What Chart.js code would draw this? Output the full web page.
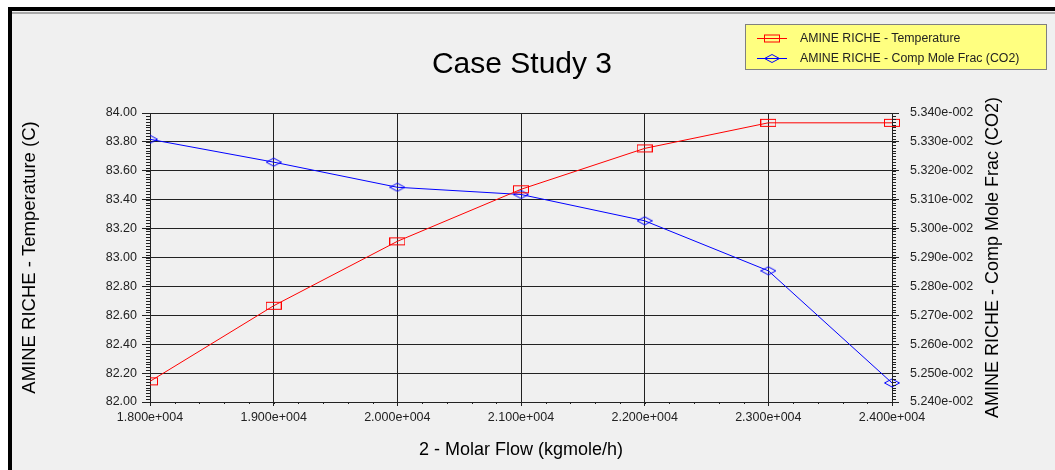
<!DOCTYPE html>
<html>
<head>
<meta charset="utf-8">
<script src="https://cdn.jsdelivr.net/npm/chart.js@4.4.1/dist/chart.umd.min.js"></script>
<style>
  html, body { margin: 0; padding: 0; background: #fff; width: 1055px; height: 470px; overflow: hidden; font-family: "Liberation Sans", Arial, sans-serif; }
  #frame { position: absolute; left: 8px; top: 7px; width: 1047px; height: 463px; background: #f0f0f0; border-left: 4px solid #000; border-top: 4px solid #000; box-sizing: border-box; }
  #frameline { position: absolute; left: 12px; top: 12px; width: 1043px; height: 2px; background: #a8a8a8; }
  #chart { position: absolute; left: 0; top: 0; }
  #legend { position: absolute; left: 745px; top: 24px; width: 302px; height: 46px; background: #ffff80; border: 1px solid #808080; box-sizing: border-box; }
  .row { position: absolute; left: 11px; height: 14px; display: flex; align-items: center; font-size: 12.3px; color: #222; white-space: nowrap; }
  .row canvas { margin-right: 13px; }
</style>
</head>
<body>
<div id="frame"></div>
<div id="frameline"></div>
<canvas id="chart" width="1055" height="470"></canvas>
<div id="legend"></div>
<script>
// data
const flow = [18000, 19000, 20000, 21000, 22000, 23000, 24000];
const temperature = [82.143, 82.666, 83.112, 83.472, 83.755, 83.932, 83.932];
const co2Frac = [0.053309, 0.053230, 0.053143, 0.053118, 0.053027, 0.052854, 0.052466];

const flowTicks = [18000, 19000, 20000, 21000, 22000, 23000, 24000];
const tempTicks = [82.0, 82.2, 82.4, 82.6, 82.8, 83.0, 83.2, 83.4, 83.6, 83.8, 84.0];
const co2Ticks = [0.0524, 0.0525, 0.0526, 0.0527, 0.0528, 0.0529, 0.0530, 0.0531, 0.0532, 0.0533, 0.0534];

const chartTitle = 'Case Study 3';
const seriesNames = ['AMINE RICHE - Temperature', 'AMINE RICHE - Comp Mole Frac (CO2)'];
const seriesColors = ['#ff0000', '#0000ff'];

const FONT = '"Liberation Sans", Arial, sans-serif';
Chart.defaults.font.family = FONT;

// 1.800e+004 style labels
function sci(v) {
  let [m, e] = v.toExponential(3).split('e');
  const sign = e[0] === '-' ? '-' : '+';
  e = e.replace(/[+-]/, '').padStart(3, '0');
  return m + 'e' + sign + e;
}

function drawRect(ctx, cx, cy, color) {
  ctx.strokeStyle = color;
  ctx.lineWidth = 1;
  ctx.strokeRect(cx - 7.5, cy - 3.5, 15, 7);
}
function drawDiamond(ctx, cx, cy, color) {
  ctx.strokeStyle = color;
  ctx.lineWidth = 1;
  ctx.beginPath();
  ctx.moveTo(cx - 7.5, cy);
  ctx.lineTo(cx, cy - 4);
  ctx.lineTo(cx + 7.5, cy);
  ctx.lineTo(cx, cy + 4);
  ctx.closePath();
  ctx.stroke();
}
const markers = [drawRect, drawDiamond];

function markerCanvas(i) {
  const c = document.createElement('canvas');
  c.width = 16; c.height = 10;
  markers[i](c.getContext('2d'), 8, 5, seriesColors[i]);
  return c;
}

// legend (html)
const legendEl = document.getElementById('legend');
seriesNames.forEach((name, i) => {
  const row = document.createElement('div');
  row.className = 'row';
  row.style.top = (6 + i * 20) + 'px';
  const ic = document.createElement('canvas');
  ic.width = 30; ic.height = 12;
  const g = ic.getContext('2d');
  g.strokeStyle = seriesColors[i];
  g.lineWidth = 1;
  g.beginPath(); g.moveTo(0, 6.5); g.lineTo(30, 6.5); g.stroke();
  markers[i](g, 15, 6.5, seriesColors[i]);
  row.appendChild(ic);
  row.appendChild(document.createTextNode(name));
  legendEl.appendChild(row);
});

// title, minor ticks, right axis title (reads bottom to top)
const extras = {
  id: 'extras',
  afterDraw(chart) {
    const { ctx, scales: { x, y, y1 } } = chart;
    ctx.save();
    ctx.strokeStyle = '#222';
    ctx.lineWidth = 1;
    ctx.beginPath();
    for (let i = 0; i <= 100; i++) {
      const py = Math.round(y.getPixelForValue(82 + i * 0.02)) + 0.5;
      ctx.moveTo(x.left - 4, py); ctx.lineTo(x.left, py);
      const py1 = Math.round(y1.getPixelForValue(0.0524 + i * 0.00001)) + 0.5;
      ctx.moveTo(x.right, py1); ctx.lineTo(x.right + 4, py1);
    }
    for (let i = 0; i <= 30; i++) {
      const px = Math.round(x.getPixelForValue(18000 + i * 200)) + 0.5;
      ctx.moveTo(px, y.bottom); ctx.lineTo(px, y.bottom + 2);
    }
    ctx.stroke();

    ctx.fillStyle = '#000';
    ctx.textAlign = 'center';
    ctx.textBaseline = 'middle';
    ctx.font = '30px ' + FONT;
    ctx.fillText(chartTitle, (x.left + x.right) / 2 + 1, 65);

    ctx.translate(993, (y.top + y.bottom) / 2);
    ctx.rotate(-Math.PI / 2);
    ctx.font = '18px ' + FONT;
    ctx.fillText(seriesNames[1], 0, 0);
    ctx.restore();
  }
};

const gridColor = '#222';
const tickFont = { size: 12.5 };

new Chart(document.getElementById('chart'), {
  type: 'line',
  data: {
    datasets: [
      {
        label: seriesNames[0],
        data: flow.map((f, i) => ({ x: f, y: temperature[i] })),
        yAxisID: 'y',
        borderColor: seriesColors[0],
        borderWidth: 1,
        pointStyle: markerCanvas(0),
        pointRadius: 7,
        clip: { left: 0, top: 8, right: 8, bottom: 8 }
      },
      {
        label: seriesNames[1],
        data: flow.map((f, i) => ({ x: f, y: co2Frac[i] })),
        yAxisID: 'y1',
        borderColor: seriesColors[1],
        borderWidth: 1,
        pointStyle: markerCanvas(1),
        pointRadius: 7,
        clip: { left: 0, top: 8, right: 8, bottom: 8 }
      }
    ]
  },
  options: {
    responsive: false,
    animation: false,
    devicePixelRatio: 1,
    layout: { padding: { top: 113 } },
    plugins: {
      legend: { display: false },
      tooltip: { enabled: false },
      title: { display: false }
    },
    scales: {
      x: {
        type: 'linear',
        min: 18000,
        max: 24000,
        afterBuildTicks: s => { s.ticks = flowTicks.map(v => ({ value: v })); },
        afterFit: s => { s.height = 68; },
        ticks: { callback: v => sci(v), color: '#222', font: tickFont, padding: 4, autoSkip: false, maxRotation: 0 },
        grid: { color: gridColor, tickColor: gridColor, tickLength: 4 },
        border: { color: gridColor },
        title: { display: true, text: '2 - Molar Flow (kgmole/h)', color: '#000', font: { size: 18 }, padding: { top: 0, bottom: 9 } }
      },
      y: {
        position: 'left',
        min: 82,
        max: 84,
        afterBuildTicks: s => { s.ticks = tempTicks.map(v => ({ value: v })); },
        afterFit: s => { s.width = 150; },
        ticks: { callback: v => v.toFixed(2), color: '#222', font: tickFont, padding: 5, autoSkip: false },
        grid: { color: gridColor, tickColor: gridColor, tickLength: 8 },
        border: { color: gridColor },
        title: { display: true, text: 'AMINE RICHE - Temperature (C)', color: '#000', font: { size: 18.5 }, padding: { top: 19, bottom: 0 } }
      },
      y1: {
        position: 'right',
        min: 0.0524,
        max: 0.0534,
        afterBuildTicks: s => { s.ticks = co2Ticks.map(v => ({ value: v })); },
        afterFit: s => { s.width = 163; },
        ticks: { callback: v => sci(v), color: '#222', font: tickFont, padding: 11, autoSkip: false },
        grid: { drawOnChartArea: false, tickColor: gridColor, tickLength: 7 },
        border: { color: gridColor }
      }
    }
  },
  plugins: [extras]
});
</script>
</body>
</html>
